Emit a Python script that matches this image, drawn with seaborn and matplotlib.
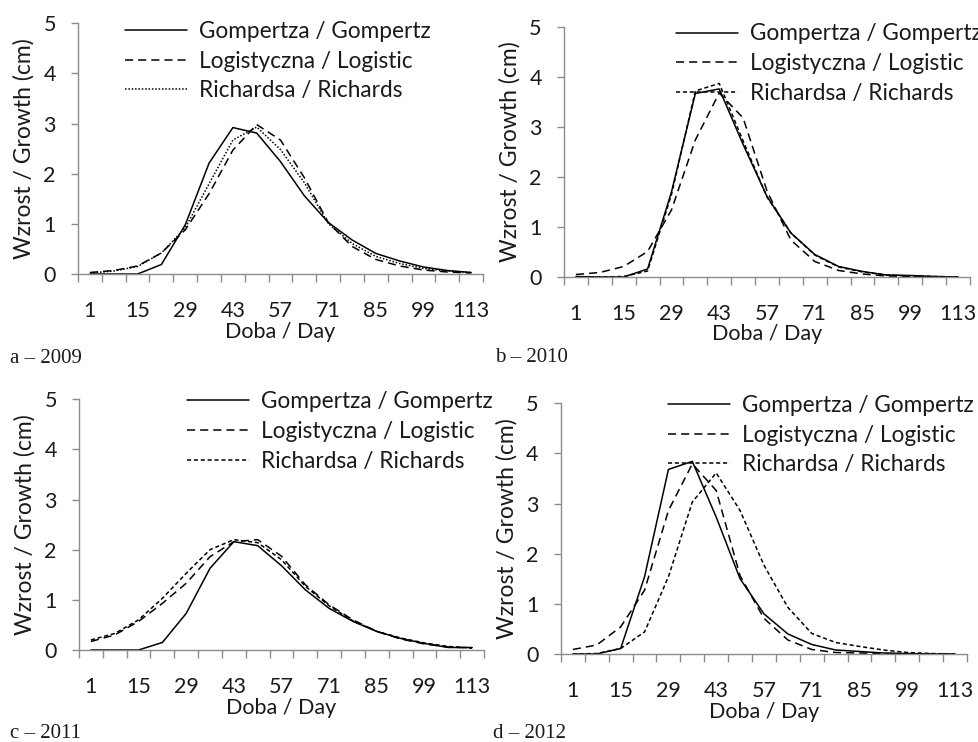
import matplotlib
matplotlib.use('Agg')
import matplotlib.pyplot as plt
import seaborn as sns
import pandas as pd

# days (categories on the x axis)
days = [1, 8, 15, 22, 29, 36, 43, 50, 57, 64, 71, 78, 85, 92, 99, 106, 113]
models = ['Gompertza / Gompertz', 'Logistyczna / Logistic', 'Richardsa / Richards']

gomp_2009 = [0.00, 0.00, 0.00, 0.19, 0.98, 2.21, 2.92, 2.81, 2.24, 1.56, 1.03, 0.68, 0.41, 0.26, 0.14, 0.07, 0.03]
logi_2009 = [0.03, 0.07, 0.16, 0.42, 0.88, 1.60, 2.47, 2.98, 2.67, 1.92, 1.03, 0.55, 0.29, 0.16, 0.08, 0.04, 0.02]
rich_2009 = [0.02, 0.06, 0.15, 0.42, 0.92, 1.80, 2.67, 2.93, 2.48, 1.82, 1.01, 0.61, 0.35, 0.21, 0.11, 0.06, 0.03]

gomp_2010 = [0.01, 0.00, 0.00, 0.16, 1.70, 3.67, 3.76, 2.65, 1.61, 0.88, 0.45, 0.21, 0.11, 0.04, 0.03, 0.01, 0.00]
logi_2010 = [0.05, 0.09, 0.21, 0.51, 1.34, 2.74, 3.68, 3.18, 1.72, 0.74, 0.31, 0.13, 0.06, 0.02, 0.01, 0.00, 0.00]
rich_2010 = [0.00, 0.00, 0.01, 0.12, 1.65, 3.72, 3.87, 2.72, 1.60, 0.88, 0.44, 0.20, 0.10, 0.04, 0.02, 0.01, 0.00]

gomp_2011 = [0.00, 0.00, 0.00, 0.15, 0.73, 1.63, 2.16, 2.08, 1.68, 1.20, 0.83, 0.57, 0.37, 0.23, 0.13, 0.05, 0.05]
logi_2011 = [0.17, 0.30, 0.57, 0.93, 1.33, 1.86, 2.16, 2.20, 1.87, 1.30, 0.90, 0.60, 0.37, 0.22, 0.12, 0.06, 0.04]
rich_2011 = [0.20, 0.33, 0.60, 1.03, 1.53, 2.00, 2.20, 2.14, 1.80, 1.27, 0.88, 0.58, 0.37, 0.24, 0.14, 0.07, 0.04]

gomp_2012 = [0.00, 0.00, 0.11, 1.54, 3.68, 3.84, 2.73, 1.50, 0.80, 0.40, 0.19, 0.08, 0.05, 0.02, 0.01, 0.00, 0.00]
logi_2012 = [0.09, 0.18, 0.54, 1.27, 2.86, 3.79, 3.26, 1.56, 0.71, 0.28, 0.09, 0.03, 0.02, 0.01, 0.00, 0.00, 0.00]
rich_2012 = [0.00, 0.01, 0.11, 0.44, 1.54, 3.03, 3.61, 2.86, 1.77, 0.93, 0.41, 0.23, 0.15, 0.08, 0.03, 0.01, 0.00]

sns.set_style('white')
plt.rcParams['font.family'] = ['Lato', 'DejaVu Sans']
FS = 15.5      # ticks, x label
FS_Y = 16.5    # y label
FS_LEG = 16.3  # legend
GREY = '#8c8c8c'
TXT = '#1a1a1a'

fig = plt.figure(figsize=(9.79, 7.42), dpi=100)

panels = [
    # axes rect, data, richards dash, legend anchor, caption, caption pos
    ([0.0797, 0.6307, 0.4137, 0.338], (gomp_2009, logi_2009, rich_2009), (1, 1.2),
     (0.116, 1.010), 'a – 2009', (10, 363)),
    ([0.5761, 0.6267, 0.4147, 0.337], (gomp_2010, logi_2010, rich_2010), (2.7, 1.8),
     (0.276, 1.014), 'b – 2010', (495, 362)),
    ([0.0807, 0.1240, 0.4137, 0.338], (gomp_2011, logi_2011, rich_2011), (2.7, 1.8),
     (0.267, 1.032), 'c – 2011', (10, 738)),
    ([0.5730, 0.1186, 0.4147, 0.338], (gomp_2012, logi_2012, rich_2012), (2.7, 1.8),
     (0.264, 1.034), 'd – 2012', (493, 738)),
]

for rect, (g, l, r), rdash, anchor, cap, cpos in panels:
    ax = fig.add_axes(rect)
    df = pd.DataFrame({
        'day': days * 3,
        'growth': g + l + r,
        'model': [models[0]] * len(days) + [models[1]] * len(days) + [models[2]] * len(days),
    })
    sns.lineplot(data=df, x='day', y='growth', style='model', color='black',
                 dashes={models[0]: '', models[1]: (5.3, 3.3), models[2]: rdash},
                 linewidth=1.1, errorbar=None, legend=False, ax=ax)

    ax.set_xlim(days[0] - 3.5, days[-1] + 3.5)
    ax.set_ylim(0, 5)
    ax.set_yticks([0, 1, 2, 3, 4, 5])
    ax.set_xticks(days[::2])
    ax.set_xticks([d - 3.5 for d in days] + [days[-1] + 3.5], minor=True)
    ax.tick_params(axis='x', which='major', length=0, pad=19.5, labelsize=FS, labelcolor=TXT)
    ax.tick_params(axis='x', which='minor', length=6, width=1, color=GREY, direction='out',
                   bottom=True)
    ax.tick_params(axis='y', which='major', length=5, width=1, color=GREY, direction='out',
                   left=True, pad=11, labelsize=FS, labelcolor=TXT)
    for s in ['top', 'right']:
        ax.spines[s].set_visible(False)
    for s in ['left', 'bottom']:
        ax.spines[s].set_color(GREY)
        ax.spines[s].set_linewidth(1.0)

    ax.set_xlabel('Doba / Day', fontsize=FS, color=TXT)
    ax.set_ylabel('Wzrost / Growth (cm)', fontsize=FS_Y, color=TXT)
    ax.xaxis.set_label_coords(0.5, -0.19)
    ax.yaxis.set_label_coords(-0.108, 0.5)

    ax.legend(ax.lines[:3], models, loc='upper left', bbox_to_anchor=anchor,
              frameon=False, borderpad=0, borderaxespad=0, fontsize=FS_LEG,
              handlelength=2.75, handletextpad=0.5, labelspacing=0.39,
              labelcolor=TXT)

    fig.text(cpos[0] / 979, 1 - cpos[1] / 742, cap, family='Liberation Serif',
             fontsize=15, color=TXT, va='baseline', ha='left')

fig.savefig('out.png', dpi=100)
